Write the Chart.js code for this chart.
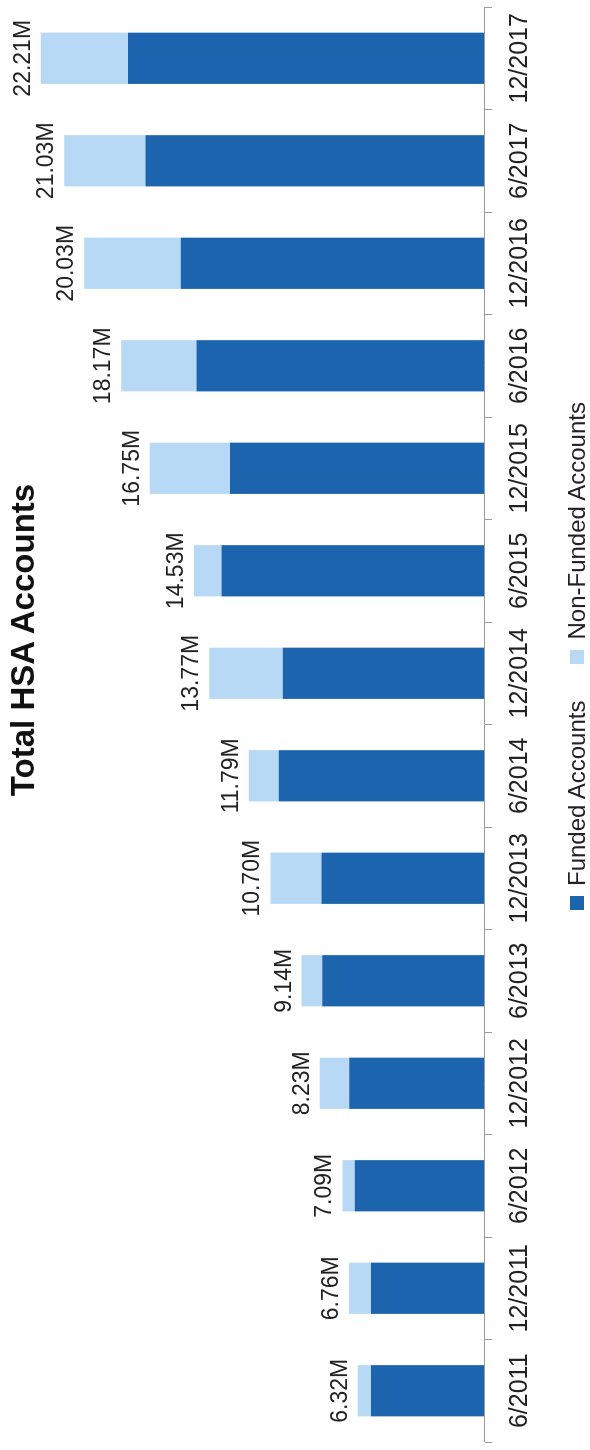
<!DOCTYPE html>
<html lang="en">
<head>
  <meta charset="UTF-8">
  <title>Total HSA Accounts</title>
  <script src="https://cdn.jsdelivr.net/npm/chart.js"></script>
  <style>
    html, body { margin: 0; padding: 0; background: #fff; overflow: hidden; }
    body { width: 590px; height: 1450px; position: relative; font-family: "Liberation Sans", Arial, sans-serif; }
    /* the chart is laid out 1450x590 and turned a quarter to the left */
    #turn {
      position: absolute; left: 0; top: 0;
      width: 1450px; height: 590px;
      transform-origin: 0 0;
      transform: translateY(1450px) rotate(-90deg);
    }
    #turn canvas { position: absolute; left: 0; top: 0; }
    #title {
      position: absolute; left: 510px; top: 6px; width: 600px;
      text-align: center; font-weight: bold; font-size: 33px; line-height: 34px; color: #111;
    }
    #legend {
      position: absolute; left: 540px; top: 565px; height: 24px;
      display: flex; align-items: center; font-size: 24px; line-height: 24px; color: #222;
    }
    #legend .item { display: flex; align-items: center; margin-right: 37px; }
    #legend .box { width: 14px; height: 14px; margin-right: 10px; }
  </style>
</head>
<body>

<div id="turn">
  <canvas id="hsaChart" width="1450" height="590"></canvas>
  <div id="title">Total HSA Accounts</div>
  <div id="legend"></div>
</div>

<script>
const periods = ["6/2011", "12/2011", "6/2012", "12/2012", "6/2013", "12/2013", "6/2014",
                 "12/2014", "6/2015", "12/2015", "6/2016", "12/2016", "6/2017", "12/2017"];
// millions of accounts
const totals    = [6.32, 6.76, 7.09, 8.23, 9.14, 10.70, 11.79, 13.77, 14.53, 16.75, 18.17, 20.03, 21.03, 22.21];
const funded    = [5.66, 5.66, 6.48, 6.75, 8.10, 8.14, 10.29, 10.08, 13.15, 12.73, 14.40, 15.19, 16.96, 17.84];
const nonFunded = [0.66, 1.10, 0.61, 1.48, 1.04, 2.56, 1.50, 3.69, 1.38, 4.02, 3.77, 4.84, 4.07, 4.37];

const darkBlue = "#1c64ad";
const lightBlue = "#b7d9f5";
const axisGray = "#9a9a9a";

// total on top of each stack
const totalLabels = {
  id: "totalLabels",
  afterDatasetsDraw(chart) {
    const ctx = chart.ctx;
    const meta = chart.getDatasetMeta(1);
    ctx.save();
    ctx.font = '23px "Liberation Sans", Arial, sans-serif';
    ctx.fillStyle = "#222";
    ctx.textAlign = "center";
    ctx.textBaseline = "alphabetic";
    meta.data.forEach((bar, i) => {
      ctx.fillText(totals[i].toFixed(2) + "M", bar.x, bar.y - 11);
    });
    ctx.restore();
  }
};

const chart = new Chart(document.getElementById("hsaChart").getContext("2d"), {
  type: "bar",
  data: {
    labels: periods,
    datasets: [
      { label: "Funded Accounts", data: funded, backgroundColor: darkBlue, barPercentage: 0.5, categoryPercentage: 1 },
      { label: "Non-Funded Accounts", data: nonFunded, backgroundColor: lightBlue, barPercentage: 0.5, categoryPercentage: 1 }
    ]
  },
  options: {
    responsive: false,
    animation: false,
    layout: { padding: { left: 8, right: 3, top: 5, bottom: 42 } },
    plugins: {
      legend: { display: false },
      title: { display: false },
      tooltip: { enabled: false }
    },
    scales: {
      x: {
        stacked: true,
        grid: { display: true, drawOnChartArea: false, drawTicks: true, tickLength: 8, color: axisGray, offset: true },
        border: { display: true, color: axisGray, width: 1 },
        ticks: {
          autoSkip: false, maxRotation: 0, minRotation: 0, padding: 13, color: "#222",
          font: { family: '"Liberation Sans", Arial, sans-serif', size: 25 }
        }
      },
      y: { stacked: true, display: false, min: 0, max: 24 }
    }
  },
  plugins: [totalLabels]
});

// legend from the datasets
const legend = document.getElementById("legend");
chart.data.datasets.forEach(ds => {
  const item = document.createElement("div");
  item.className = "item";
  const box = document.createElement("span");
  box.className = "box";
  box.style.background = ds.backgroundColor;
  const txt = document.createElement("span");
  txt.textContent = ds.label;
  item.appendChild(box);
  item.appendChild(txt);
  legend.appendChild(item);
});
</script>
</body>
</html>
